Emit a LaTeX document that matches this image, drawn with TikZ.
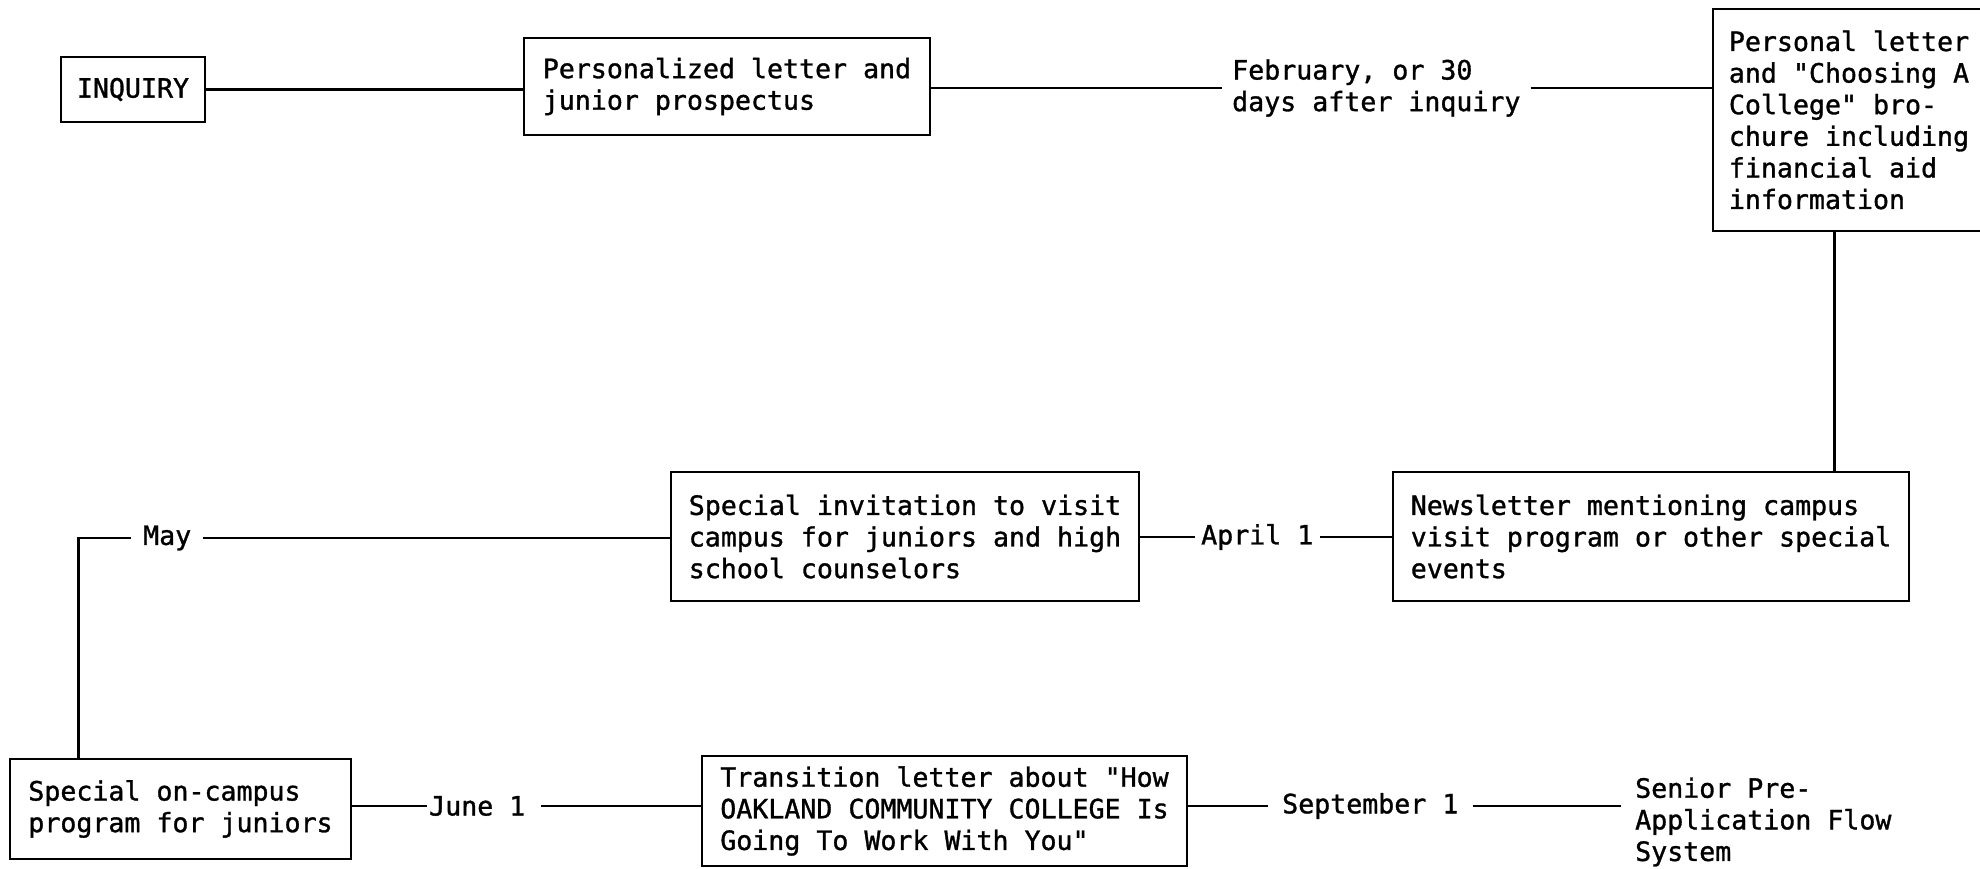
\documentclass[tikz,border=0pt]{standalone}
\usepackage{fontspec}
\setmonofont[FakeBold=1.2]{DejaVu Sans Mono}
\usetikzlibrary{calc}
\tikzset{
  typed/.style={font={\ttfamily\fontsize{26.6}{31.6}\selectfont}},
  stage/.style={typed, draw, line width=2.6pt, align=left, inner sep=0pt},
  label/.style={typed, align=left, inner ysep=0pt, anchor=west},
  wire/.style={line width=2.6pt},
}
\begin{document}
\begin{tikzpicture}[x=1pt,y=-1pt]
  \useasboundingbox (0,0) rectangle (1980,869);
  \clip (0,0) rectangle (1980,869);

  % boxes
  \node[stage, minimum width=144, minimum height=65] (inq) at (133,89.5) {INQUIRY};
  \node[stage, minimum width=406, minimum height=97] (pers) at (727,86.5)
    {Personalized letter and\\junior prospectus};
  \node[stage, minimum width=272, minimum height=222] (letter) at (1849,120)
    {Personal letter\\and "Choosing A\\College" bro-\\chure including\\financial aid\\information};
  \node[stage, minimum width=516, minimum height=129] (news) at (1651,536.5)
    {Newsletter mentioning campus\\visit program or other special\\events};
  \node[stage, minimum width=468, minimum height=129] (invit) at (905,536.5)
    {Special invitation to visit\\campus for juniors and high\\school counselors};
  \node[stage, minimum width=341, minimum height=100] (oncamp) at (180.5,809)
    {Special on-campus\\program for juniors};
  \node[stage, minimum width=485, minimum height=110] (trans) at (944.5,811)
    {Transition letter about "How\\OAKLAND COMMUNITY COLLEGE Is\\Going To Work With You"};

  % timing labels
  \node[label, inner xsep=10] (feb) at (1222,88) {February, or 30\\days after inquiry};
  \node[label, inner xsep=6] (april) at (1195,537) {April 1};
  \node[label, inner xsep=12] (may) at (131,538) {May};
  \node[label, inner xsep=2] (june) at (427,806) {June 1};
  \node[label, inner xsep=14] (sept) at (1268,806) {September 1};
  \node[label, inner xsep=14] (senior) at (1621,822) {Senior Pre-\\Application Flow\\System};

  \coordinate (drop) at ($(letter.south west)+(123,0)$);
  \coordinate (turn) at ($(oncamp.north west)+(70,0)$);

  % connectors
  \draw[wire] (inq.east) -- (inq.east -| pers.west);
  \draw[wire] (pers.east |- feb.west) -- (feb.west);
  \draw[wire] (feb.east) -- (feb.east -| letter.west);
  \draw[wire] (drop) -- (drop |- news.north);
  \draw[wire] (news.west |- april.east) -- (april.east);
  \draw[wire] (april.west) -- (april.west -| invit.east);
  \draw[wire] (invit.west |- may.east) -- (may.east);
  \draw[wire] (may.west) -| (turn);
  \draw[wire] (oncamp.east |- june.west) -- (june.west);
  \draw[wire, shorten <=14pt] (june.east) -- (june.east -| trans.west);
  \draw[wire] (trans.east |- sept.west) -- (sept.west);
  \draw[wire] (sept.east) -- (sept.east -| senior.west);
\end{tikzpicture}
\end{document}
